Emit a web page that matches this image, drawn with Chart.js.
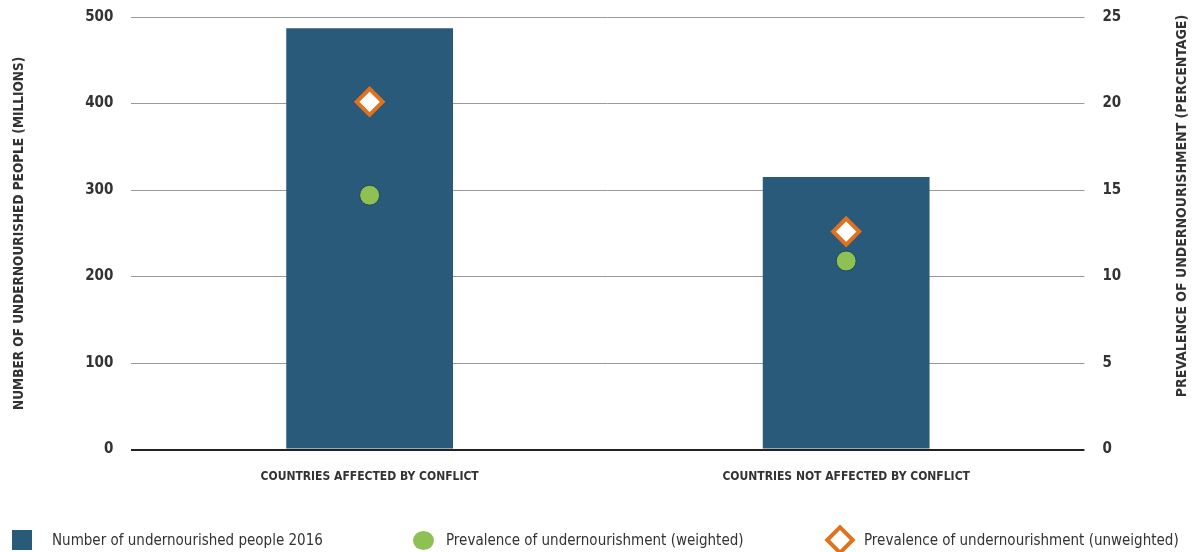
<!DOCTYPE html>
<html>
<head>
<meta charset="utf-8">
<script src="https://cdn.jsdelivr.net/npm/chart.js@4/dist/chart.umd.min.js"></script>
<style>
html,body{margin:0;padding:0;background:#fff;}
#wrap{width:1200px;height:552px;position:relative;overflow:hidden;}
#c{position:absolute;left:0;top:0;}
.lg{position:absolute;top:529px;height:22px;display:flex;align-items:center;
    font-family:'Liberation Sans Narrow','DejaVu Sans Condensed',sans-serif;font-size:15px;color:#333;white-space:nowrap;}
.mk{flex:none;}
.sq{width:20px;height:20px;background:#295a7a;margin-right:20px;}
.ci{width:21px;height:19px;border-radius:50%;background:#8dc153;margin-right:12px;}
.di{width:14px;height:14px;border:4px solid #e2711d;background:#fff;transform:rotate(45deg);margin:0 13px 0 4px;}
</style>
</head>
<body>
<div id="wrap">
<canvas id="c" width="1200" height="552"></canvas>
<div id="legend"></div>
</div>
<script>
const categories = ["COUNTRIES AFFECTED BY CONFLICT", "COUNTRIES NOT AFFECTED BY CONFLICT"];
const seriesNames = ["Number of undernourished people 2016", "Prevalence of undernourishment (weighted)", "Prevalence of undernourishment (unweighted)"];
const undernourishedMillions = [487, 315];
const prevalenceWeighted = [14.7, 10.9];
const prevalenceUnweighted = [20.1, 12.6];
const leftTicks = [0, 100, 200, 300, 400, 500];
const rightTicks = [0, 5, 10, 15, 20, 25];

const FONT = "'Liberation Sans Narrow', 'DejaVu Sans Condensed', sans-serif";
const TXT = '#333333';
const RIGHT_TITLE = 'PREVALENCE OF UNDERNOURISHMENT (PERCENTAGE)';

// HTML legend
const legendPos = [12, 413, 825];
const legendMarks = ['sq', 'ci', 'di'];
const legendEl = document.getElementById('legend');
seriesNames.forEach((name, i) => {
  const d = document.createElement('div');
  d.className = 'lg';
  d.style.left = legendPos[i] + 'px';
  const m = document.createElement('span');
  m.className = 'mk ' + legendMarks[i];
  const t = document.createElement('span');
  t.textContent = name;
  d.appendChild(m); d.appendChild(t);
  legendEl.appendChild(d);
});

const rightTitlePlugin = {
  id: 'rightTitle',
  afterDraw(chart) {
    const ctx = chart.ctx;
    ctx.save();
    ctx.font = "bold 14px " + FONT;
    ctx.fillStyle = TXT;
    ctx.textAlign = 'center';
    ctx.textBaseline = 'middle';
    ctx.translate(1182, 206);
    ctx.rotate(-Math.PI / 2);
    ctx.fillText(RIGHT_TITLE, 0, 0);
    ctx.restore();
  }
};

const noVertPad = s => { s.paddingTop = 0; s.paddingBottom = 0; };

new Chart(document.getElementById('c'), {
  data: {
    labels: categories,
    datasets: [
      {
        type: 'bar',
        label: seriesNames[0],
        data: undernourishedMillions,
        backgroundColor: '#295a7a',
        borderWidth: 0,
        barPercentage: 0.35,
        categoryPercentage: 1.0,
        yAxisID: 'y',
        order: 3
      },
      {
        type: 'line',
        label: seriesNames[1],
        data: prevalenceWeighted,
        showLine: false,
        pointStyle: 'circle',
        pointRadius: 10,
        pointHoverRadius: 10,
        backgroundColor: '#8dc153',
        borderColor: '#1f4a5e',
        borderWidth: 1,
        yAxisID: 'y1',
        order: 2
      },
      {
        type: 'line',
        label: seriesNames[2],
        data: prevalenceUnweighted,
        showLine: false,
        pointStyle: 'rectRot',
        pointRadius: 13,
        pointHoverRadius: 13,
        backgroundColor: '#ffffff',
        borderColor: '#e2711d',
        borderWidth: 4,
        yAxisID: 'y1',
        order: 1
      }
    ]
  },
  options: {
    responsive: false,
    animation: false,
    layout: { padding: { top: 16, left: 11, right: 4, bottom: 48 } },
    plugins: {
      tooltip: { enabled: false },
      legend: { display: false }
    },
    scales: {
      x: {
        grid: { display: false, drawTicks: false },
        border: { display: false },
        ticks: { color: TXT, font: { family: FONT, size: 12, weight: 'bold' }, padding: 20 }
      },
      y: {
        position: 'left',
        min: 0, max: 500,
        afterBuildTicks(s) { s.ticks = leftTicks.map(v => ({ value: v })); },
        afterFit: noVertPad,
        grid: {
          drawTicks: false,
          color: ctx => ctx.tick && ctx.tick.value === 0 ? '#222' : '#9a9a9a',
          lineWidth: ctx => ctx.tick && ctx.tick.value === 0 ? 2 : 1
        },
        border: { display: false },
        ticks: { color: TXT, font: { family: FONT, size: 15, weight: 'bold' }, padding: 18 },
        title: {
          display: true,
          text: 'NUMBER OF UNDERNOURISHED PEOPLE (MILLIONS)',
          color: TXT,
          font: { family: FONT, size: 13.5, weight: 'bold' },
          padding: { top: 0, bottom: 40 }
        }
      },
      y1: {
        position: 'right',
        min: 0, max: 25,
        afterBuildTicks(s) { s.ticks = rightTicks.map(v => ({ value: v })); },
        afterFit: noVertPad,
        grid: { display: false, drawTicks: false },
        border: { display: false },
        ticks: { color: TXT, font: { family: FONT, size: 15, weight: 'bold' }, padding: 18 },
        title: {
          display: true,
          text: RIGHT_TITLE,
          color: 'rgba(0,0,0,0)',
          font: { family: FONT, size: 14, weight: 'bold' },
          padding: { top: 40, bottom: 0 }
        }
      }
    }
  },
  plugins: [rightTitlePlugin]
});
</script>
</body>
</html>
